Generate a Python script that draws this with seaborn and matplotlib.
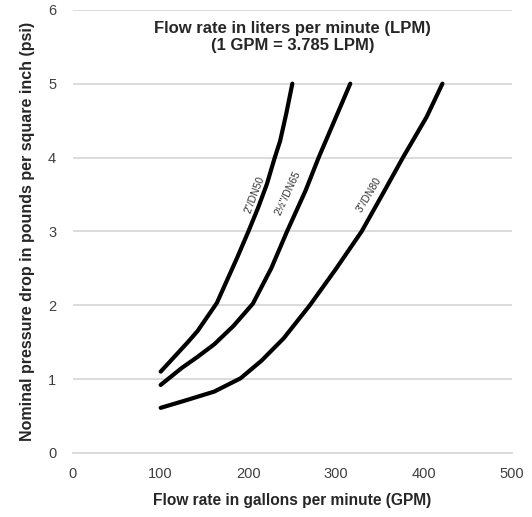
import pandas as pd
import matplotlib.pyplot as plt
import seaborn as sns

# ── data ──
gpm_dn50 = [100, 131, 142, 164, 187, 200, 211, 221, 230, 236, 243, 250]
psi_dn50 = [1.10, 1.50, 1.65, 2.03, 2.64, 3.00, 3.32, 3.64, 4.00, 4.22, 4.59, 5.00]

gpm_dn65 = [100, 124, 142, 161, 183, 205, 226, 244, 265, 280, 298, 316]
psi_dn65 = [0.92, 1.15, 1.30, 1.47, 1.72, 2.02, 2.50, 3.00, 3.55, 4.00, 4.50, 5.00]

gpm_dn80 = [100, 131, 161, 191, 215, 240, 270, 299, 329, 355, 376, 403, 421]
psi_dn80 = [0.61, 0.72, 0.83, 1.01, 1.25, 1.55, 2.00, 2.48, 3.00, 3.55, 4.00, 4.55, 5.00]

pipe_labels = ['2"/DN50', '2½"/DN65', '3"/DN80']
label_x = [207, 245, 338]
label_y = [3.50, 3.52, 3.50]
label_rot = [69, 65, 59]

df = pd.concat([
    pd.DataFrame({'gpm': gpm_dn50, 'psi': psi_dn50, 'pipe': pipe_labels[0]}),
    pd.DataFrame({'gpm': gpm_dn65, 'psi': psi_dn65, 'pipe': pipe_labels[1]}),
    pd.DataFrame({'gpm': gpm_dn80, 'psi': psi_dn80, 'pipe': pipe_labels[2]}),
])

sns.set_style('white')
plt.rcParams['font.family'] = ['Liberation Sans', 'DejaVu Sans']

fig = plt.figure(figsize=(5.32, 5.17), dpi=100)
ax = fig.add_axes([0.137, 0.124, 0.825, 0.857])

sns.lineplot(data=df, x='gpm', y='psi', hue='pipe', sort=False,
             palette=['black'] * 3, linewidth=3, legend=False, ax=ax,
             solid_capstyle='round', solid_joinstyle='round')

for txt, x, y, r in zip(pipe_labels, label_x, label_y, label_rot):
    ax.text(x, y, txt, rotation=r, ha='center', va='center',
            fontsize=7.5, color='#333333')

ax.set_xlim(0, 500)
ax.set_ylim(0, 6)
ax.set_xticks(range(0, 501, 100))
ax.set_yticks(range(0, 7))
ax.yaxis.grid(True, color='#d9d9d9', linewidth=1.3)
ax.xaxis.grid(False)
for s in ['top', 'right', 'left']:
    ax.spines[s].set_visible(False)
ax.spines['bottom'].set_color('#d9d9d9')
ax.spines['bottom'].set_linewidth(1.3)
ax.tick_params(axis='x', length=4, width=1.2, color='#d9d9d9',
               labelsize=10.5, labelcolor='#404040', pad=6)
ax.tick_params(axis='y', length=0, labelsize=10.5, labelcolor='#404040', pad=12)

ax.set_xlabel('Flow rate in gallons per minute (GPM)', fontsize=11.2,
              fontweight='bold', labelpad=9)
ax.set_ylabel('Nominal pressure drop in pounds per square inch (psi)',
              fontsize=11.5, fontweight='bold', labelpad=9)

ax.text(0.5, 0.975, 'Flow rate in liters per minute (LPM)\n(1 GPM = 3.785 LPM)',
        transform=ax.transAxes, ha='center', va='top', fontsize=12,
        fontweight='bold', linespacing=1.2)

fig.savefig('out.png', dpi=100)
